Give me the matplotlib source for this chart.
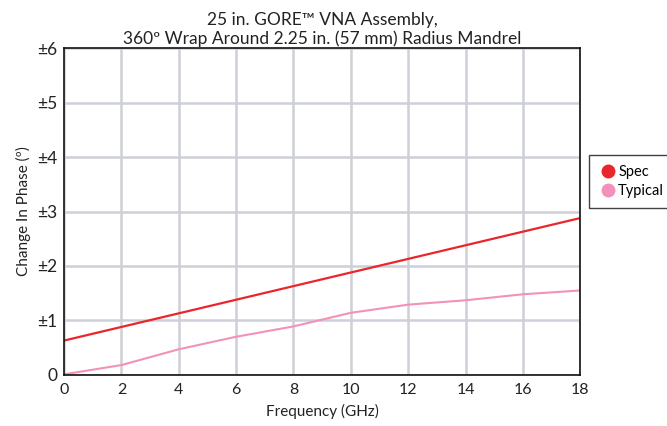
import matplotlib.pyplot as plt
from matplotlib.lines import Line2D

plt.rcParams['font.family'] = ['Lato', 'DejaVu Sans']

freq = [0, 2, 4, 6, 8, 10, 12, 14, 16, 18]
spec = [0.63, 0.88, 1.13, 1.38, 1.63, 1.88, 2.13, 2.38, 2.63, 2.88]
typical = [0.01, 0.18, 0.47, 0.70, 0.89, 1.14, 1.29, 1.37, 1.48, 1.55]

x_ticks = [0, 2, 4, 6, 8, 10, 12, 14, 16, 18]
y_ticks = [0, 1, 2, 3, 4, 5, 6]
y_labels = ['0', '±1', '±2', '±3', '±4', '±5', '±6']

spec_color = '#e8262b'
typ_color = '#f291b9'

fig = plt.figure(figsize=(6.67, 4.26), dpi=100)
ax = fig.add_axes([0.096, 0.12, 0.774, 0.767])

ax.plot(freq, spec, color=spec_color, lw=1.6)
ax.plot(freq, typical, color=typ_color, lw=1.5)

ax.set_xlim(0, 18)
ax.set_ylim(0, 6)
ax.set_xticks(x_ticks)
ax.set_yticks(y_ticks)
ax.set_yticklabels(y_labels)
ax.tick_params(length=0, labelsize=11.5, colors='#222222')
ax.tick_params(axis='x', pad=6)
ax.tick_params(axis='y', pad=5, labelsize=12.5)
ax.grid(True, color='#cdd0d8', lw=1.8)
ax.set_axisbelow(True)
for s in ax.spines.values():
    s.set_color('#111111')
    s.set_linewidth(1.2)

ax.set_xlabel('Frequency (GHz)', fontsize=11, color='#222222', labelpad=5)
ax.set_ylabel('Change In Phase (º)', fontsize=11, color='#222222', labelpad=4)
ax.set_title('25 in. GORE™ VNA Assembly,\n360º Wrap Around 2.25 in. (57 mm) Radius Mandrel',
             fontsize=12.5, color='#222222', pad=3, linespacing=1.15)

handles = [Line2D([], [], marker='o', ls='', color=spec_color, markersize=9),
           Line2D([], [], marker='o', ls='', color=typ_color, markersize=9)]
leg = fig.legend(handles, ['Spec', 'Typical'], loc='center left',
                 bbox_to_anchor=(0.883, 0.574), borderaxespad=0, frameon=True,
                 fancybox=False, handletextpad=0.1, handlelength=1.2,
                 borderpad=0.7, labelspacing=0.35, fontsize=10.5)
leg.get_frame().set_edgecolor('#111111')
leg.get_frame().set_linewidth(1.0)

fig.savefig('out.png', dpi=100)
